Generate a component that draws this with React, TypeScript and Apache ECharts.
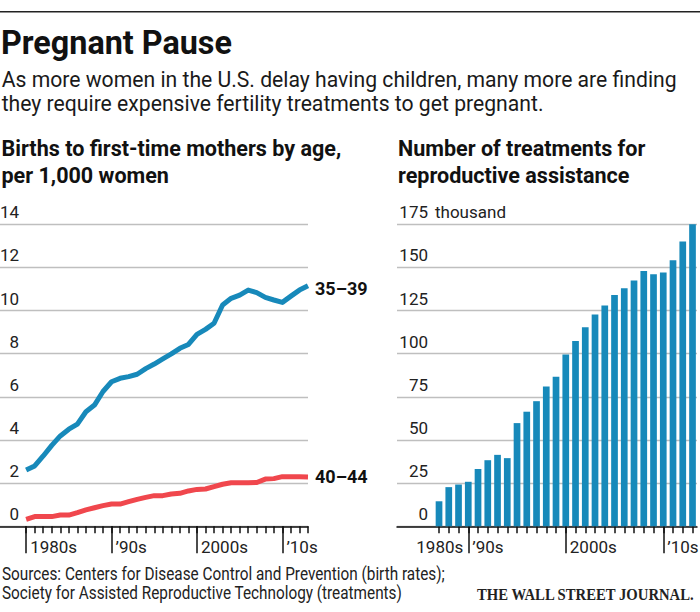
import React, { useEffect, useRef } from "react";
import * as echarts from "echarts";

// ---------- data ----------
const birthYears = [
  1980, 1981, 1982, 1983, 1984, 1985, 1986, 1987, 1988, 1989,
  1990, 1991, 1992, 1993, 1994, 1995, 1996, 1997, 1998, 1999,
  2000, 2001, 2002, 2003, 2004, 2005, 2006, 2007, 2008, 2009,
  2010, 2011, 2012, 2013,
];
const rate35to39 = [
  2.61, 2.8, 3.26, 3.75, 4.19, 4.5, 4.74, 5.31, 5.62, 6.25,
  6.7, 6.86, 6.94, 7.05, 7.31, 7.52, 7.76, 7.99, 8.25, 8.43,
  8.9, 9.13, 9.41, 10.26, 10.57, 10.72, 10.95, 10.83, 10.61, 10.49,
  10.38, 10.67, 10.95, 11.15,
];
const rate40to44 = [
  0.32, 0.45, 0.45, 0.45, 0.52, 0.52, 0.63, 0.76, 0.86, 0.96,
  1.03, 1.03, 1.14, 1.25, 1.34, 1.42, 1.42, 1.5, 1.53, 1.64,
  1.71, 1.73, 1.84, 1.95, 2.02, 2.02, 2.02, 2.03, 2.19, 2.21,
  2.3, 2.3, 2.3, 2.29,
];
const treatmentYears = [
  1987, 1988, 1989, 1990, 1991, 1992, 1993, 1994, 1995, 1996,
  1997, 1998, 1999, 2000, 2001, 2002, 2003, 2004, 2005, 2006,
  2007, 2008, 2009, 2010, 2011, 2012, 2013,
];
const treatmentsThousands = [
  14.5, 22.7, 24.2, 25.8, 33.2, 38.3, 41.4, 39.5, 59.8, 66.4,
  72.5, 81, 86.7, 99.6, 107.4, 115.3, 122.8, 127.9, 134.1, 137.9,
  142.4, 148, 146.1, 147, 154.2, 165, 175,
];
const decadeTicks = [1980, 1990, 2000, 2010];
const decadeLabels = ["1980s", "\u201990s", "2000s", "\u201910s"];
const seriesNames = ["35\u201339", "40\u201344"];

const TITLE = "Pregnant Pause";
const SUB1 = "As more women in the U.S. delay having children, many more are finding";
const SUB2 = "they require expensive fertility treatments to get pregnant.";
const LEFT_H1 = "Births to first-time mothers by age,";
const LEFT_H2 = "per 1,000 women";
const RIGHT_H1 = "Number of treatments for";
const RIGHT_H2 = "reproductive assistance";
const SRC1 = "Sources: Centers for Disease Control and Prevention (birth rates);";
const SRC2 = "Society for Assisted Reproductive Technology (treatments)";
const LOGO = "THE WALL STREET JOURNAL.";

// ---------- style ----------
const SANS = "Roboto, 'Noto Sans', sans-serif";
const SERIF = "'Liberation Serif', 'DejaVu Serif', serif";
const BLUE = "#1789ba";
const RED = "#f0474d";
const INK = "#111";
const GRID_GRAY = "#bfbfbf";

function measure(text: string, size: number, weight: string, family: string) {
  const ctx = document.createElement("canvas").getContext("2d")!;
  ctx.font = `${weight} ${size}px ${family}`;
  return ctx.measureText(text).width || 1;
}

function fitScale(text: string, size: number, weight: string, family: string, target: number) {
  return target / measure(text, size, weight, family);
}

function txt(
  text: string, x: number, y: number, size: number, weight: string,
  family: string, color: string, scaleX: number
) {
  return {
    type: "text",
    x,
    y,
    scaleX,
    style: {
      text,
      fill: color,
      fontSize: size,
      fontWeight: weight,
      fontFamily: family,
      align: "left",
      verticalAlign: "middle",
    },
  };
}

export default function App() {
  const ref = useRef<HTMLDivElement>(null);

  useEffect(() => {
    if (!ref.current) return;
    const chart = echarts.init(ref.current, undefined, { renderer: "svg" });

    const leftMin = 1976.94, leftMax = 2013;
    const rightMin = 1982.69, rightMax = 2013.46;
    const rightWidth = 300;
    const rightPx = rightWidth / (rightMax - rightMin);
    const label1980sRight = 1990 - 59 / rightPx;

    const titleS = fitScale(TITLE, 33, "bold", SANS, 231);
    const subS = fitScale(SUB1, 22, "normal", SANS, 675);
    const headS = fitScale(LEFT_H1, 22.5, "bold", SANS, 340);
    const srcS = fitScale(SRC1, 17.5, "normal", SANS, 443);
    const logoS = fitScale(LOGO, 17.5, "bold", SERIF, 218);

    const axisLabelBase = { fontSize: 17, color: "#222", fontFamily: SANS };
    const tickStyle = { color: INK, width: 1.5 };

    const option: any = {
      animation: false,
      backgroundColor: "#fff",
      grid: [
        { left: 0, top: 224.3, width: 308, height: 302, outerBoundsMode: "none", containLabel: false },
        { left: 397, top: 224.3, width: rightWidth, height: 302, outerBoundsMode: "none", containLabel: false },
      ],
      xAxis: [
        {
          gridIndex: 0, type: "value", min: leftMin, max: leftMax, position: "bottom",
          axisLine: { show: true, lineStyle: tickStyle },
          axisTick: { show: true, customValues: birthYears, length: 7, lineStyle: tickStyle },
          axisLabel: {
            ...axisLabelBase,
            customValues: decadeTicks,
            formatter: (v: number) => decadeLabels[decadeTicks.indexOf(Math.round(v))] ?? "",
            align: "left", padding: [0, 0, 0, 4], margin: 11, lineHeight: 20,
          },
          splitLine: { show: false },
        },
        {
          gridIndex: 0, type: "value", min: leftMin, max: leftMax, position: "bottom", offset: 0,
          axisLine: { show: false },
          axisTick: { show: true, customValues: decadeTicks, length: 27, lineStyle: tickStyle },
          axisLabel: { show: false },
          splitLine: { show: false },
        },
        {
          gridIndex: 1, type: "value", min: rightMin, max: rightMax, position: "bottom",
          axisLine: { show: true, lineStyle: tickStyle },
          axisTick: { show: true, customValues: treatmentYears, length: 7, lineStyle: tickStyle },
          axisLabel: {
            ...axisLabelBase,
            customValues: [label1980sRight, 1990, 2000, 2010],
            formatter: (v: number) => {
              if (v < 1987) return "{r|" + decadeLabels[0] + "}";
              return decadeLabels[decadeTicks.indexOf(Math.round(v))] ?? "";
            },
            rich: { r: { ...axisLabelBase, width: 50, align: "right" } },
            align: "left", padding: [0, 0, 0, 4], margin: 11, lineHeight: 20,
          },
          splitLine: { show: false },
        },
        {
          gridIndex: 1, type: "value", min: rightMin, max: rightMax, position: "bottom", offset: 0,
          axisLine: { show: false },
          axisTick: { show: true, customValues: [1990, 2000, 2010], length: 27, lineStyle: tickStyle },
          axisLabel: { show: false },
          splitLine: { show: false },
        },
      ],
      yAxis: [
        {
          gridIndex: 0, type: "value", min: 0, max: 14, interval: 2,
          axisLine: { show: false }, axisTick: { show: false },
          splitLine: { show: true, lineStyle: { color: GRID_GRAY, width: 1.3 } },
          axisLabel: {
            ...axisLabelBase, inside: true, margin: 19, align: "right",
            verticalAlign: "bottom", lineHeight: 24,
          },
        },
        {
          gridIndex: 1, type: "value", min: 0, max: 175, interval: 25,
          axisLine: { show: false }, axisTick: { show: false },
          splitLine: { show: true, lineStyle: { color: GRID_GRAY, width: 1.3 } },
          axisLabel: {
            ...axisLabelBase, inside: true, margin: 31, align: "right",
            verticalAlign: "bottom", lineHeight: 24,
          },
        },
      ],
      series: [
        {
          type: "line", name: seriesNames[0], xAxisIndex: 0, yAxisIndex: 0,
          data: birthYears.map((y, i) => [y, rate35to39[i]]),
          symbol: "none", showSymbol: false,
          lineStyle: { color: BLUE, width: 5, join: "round", cap: "butt" },
          itemStyle: { color: BLUE },
          endLabel: {
            show: true, formatter: seriesNames[0], color: INK, fontSize: 18,
            fontWeight: "bold", fontFamily: SANS, distance: 7, offset: [0, 3],
          },
          z: 3,
        },
        {
          type: "line", name: seriesNames[1], xAxisIndex: 0, yAxisIndex: 0,
          data: birthYears.map((y, i) => [y, rate40to44[i]]),
          symbol: "none", showSymbol: false,
          lineStyle: { color: RED, width: 5, join: "round", cap: "butt" },
          itemStyle: { color: RED },
          endLabel: {
            show: true, formatter: seriesNames[1], color: INK, fontSize: 18,
            fontWeight: "bold", fontFamily: SANS, distance: 7,
          },
          z: 3,
        },
        {
          type: "bar", xAxisIndex: 2, yAxisIndex: 1,
          data: treatmentYears.map((y, i) => [y, treatmentsThousands[i]]),
          barWidth: 6.7,
          itemStyle: { color: BLUE },
          z: 2,
        },
      ],
      graphic: [
        { type: "line", shape: { x1: 0, y1: 11.7, x2: 700, y2: 11.7 }, style: { stroke: "#222", lineWidth: 1.6 } },
        txt(TITLE, 1, 43.3, 33, "bold", SANS, INK, titleS),
        txt(SUB1, 1.7, 79.5, 22, "normal", SANS, "#1a1a1a", subS),
        txt(SUB2, 1.7, 102.9, 22, "normal", SANS, "#1a1a1a", subS),
        txt(LEFT_H1, 1.5, 148, 22.5, "bold", SANS, INK, headS),
        txt(LEFT_H2, 1.5, 175.3, 22.5, "bold", SANS, INK, headS),
        txt(RIGHT_H1, 398, 148, 22.5, "bold", SANS, INK, headS),
        txt(RIGHT_H2, 398, 175.3, 22.5, "bold", SANS, INK, headS),
        txt("thousand", 435, 212.3, 17, "normal", SANS, "#222", 1),
        txt(SRC1, 2, 574.3, 17.5, "normal", SANS, "#222", srcS),
        txt(SRC2, 2, 593.6, 17.5, "normal", SANS, "#222", srcS),
        txt(LOGO, 477, 594.2, 17.5, "bold", SERIF, "#222", logoS),
      ],
    };

    chart.setOption(option);
    return () => chart.dispose();
  }, []);

  return (
    <div
      ref={ref}
      style={{ position: "fixed", left: 0, top: 0, width: 700, height: 612, background: "#fff" }}
    />
  );
}
